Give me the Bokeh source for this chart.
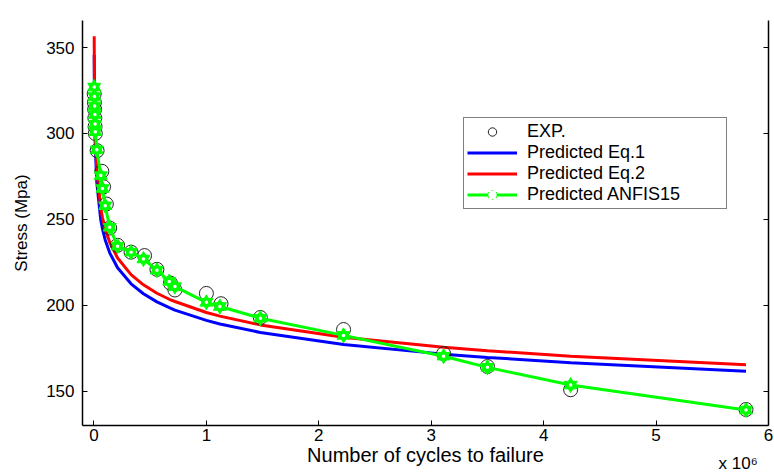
from bokeh.plotting import figure
from bokeh.models import Range1d, LinearAxis, Legend, LegendItem, Label, FixedTicker
from bokeh.embed import file_html
from bokeh.resources import INLINE

# Number of cycles to failure, in units of 10^6
n_cycles_1e6 = [0.002, 0.004, 0.006, 0.008, 0.010, 0.012, 0.025, 0.06, 0.075, 0.10,
                0.14, 0.21, 0.33, 0.44, 0.56, 0.67, 0.72, 1.00, 1.12, 1.48,
                2.22, 3.11, 3.50, 4.24, 5.80]
n_exp_1e6 = [0.002, 0.004, 0.006, 0.008, 0.010, 0.012, 0.028, 0.07, 0.085, 0.11,
             0.14, 0.21, 0.33, 0.45, 0.56, 0.68, 0.72, 1.00, 1.13, 1.48,
             2.22, 3.11, 3.50, 4.24, 5.80]
stress_exp = [323, 318, 314, 309, 304, 300, 290, 278, 269, 259,
              245, 235, 231, 229, 221, 213, 209, 207, 201, 193,
              186, 172, 164.5, 151, 139.5]
stress_anfis = [327, 321.5, 316, 311, 305.5, 301, 290.5, 275.5, 268, 258,
                245.5, 234.5, 231, 227, 220.5, 214, 211, 201.8, 199.4, 192.6,
                182.6, 170.5, 164, 153.7, 139.2]
stress_eq1 = [345.6, 323.5, 311.2, 302.8, 296.5, 291.4, 271.7, 250.0, 244.7, 238.1,
              230.6, 221.9, 212.6, 206.8, 202.1, 198.7, 197.3, 191.3, 189.2, 184.3,
              177.3, 171.7, 169.8, 166.7, 161.8]
stress_eq2 = [356.5, 332.9, 320.2, 311.5, 304.9, 299.6, 279.1, 256.7, 251.3, 244.4,
              236.7, 227.6, 217.9, 212.0, 207.1, 203.6, 202.3, 195.9, 193.8, 188.7,
              181.5, 175.7, 173.7, 170.5, 165.5]
x_ticks = [0, 1, 2, 3, 4, 5, 6]
y_ticks = [150, 200, 250, 300, 350]

FONT = "Liberation Sans"
GREEN = "#00ff00"

p = figure(width=774, height=472, output_backend="svg", toolbar_location=None,
           x_range=Range1d(-0.102, 6.0), y_range=Range1d(130.2, 365.7),
           min_border_left=82, min_border_right=6, min_border_top=20, min_border_bottom=47)
p.outline_line_color = None
p.grid.visible = False
p.background_fill_color = "white"
p.border_fill_color = "white"

# axes
p.xaxis.ticker = FixedTicker(ticks=x_ticks)
p.yaxis.ticker = FixedTicker(ticks=y_ticks)
for ax in (p.xaxis[0], p.yaxis[0]):
    ax.major_tick_in = 5
    ax.major_tick_out = 0
    ax.minor_tick_line_color = None
    ax.axis_line_color = "black"
    ax.axis_line_width = 1.5
    ax.major_tick_line_color = "black"
    ax.major_label_text_font = FONT
    ax.major_label_text_font_size = "17px"
    ax.major_label_text_color = "black"
    ax.axis_label_text_font = FONT
    ax.axis_label_text_font_style = "normal"
    ax.axis_label_text_color = "black"

p.xaxis.axis_label = "Number of cycles to failure"
p.xaxis.axis_label_text_font_size = "20px"
p.xaxis.major_label_standoff = 3
p.xaxis.axis_label_standoff = 0

p.yaxis.axis_label = "Stress (Mpa)"
p.yaxis.axis_label_text_font_size = "17px"
p.yaxis.major_label_standoff = 8
p.yaxis.axis_label_standoff = 12

right = LinearAxis(ticker=FixedTicker(ticks=y_ticks), major_tick_in=5, major_tick_out=0,
                   minor_tick_line_color=None,
                   major_label_overrides={float(v): "" for v in y_ticks},
                   major_label_standoff=0, axis_line_color="black", axis_line_width=1.5)
p.add_layout(right, "right")

# series
r_eq1 = p.line(n_cycles_1e6, stress_eq1, line_color="#0000ff", line_width=3)
r_eq2 = p.line(n_cycles_1e6, stress_eq2, line_color="#ff0000", line_width=3)
r_exp = p.scatter(n_exp_1e6, stress_exp, marker="circle", size=14, fill_color=None,
                  line_color="#222222", line_width=1)
r_an_line = p.line(n_cycles_1e6, stress_anfis, line_color=GREEN, line_width=3)
r_tri = p.scatter(n_cycles_1e6, stress_anfis, marker="triangle", size=13,
                  fill_color=GREEN, line_color=GREEN, line_width=1)
r_inv = p.scatter(n_cycles_1e6, stress_anfis, marker="inverted_triangle", size=13,
                  fill_color=GREEN, line_color=GREEN, line_width=1)
r_dot = p.scatter(n_cycles_1e6, stress_anfis, marker="circle", size=3.5,
                  fill_color="white", line_color=None)

legend = Legend(items=[
    LegendItem(label="EXP.", renderers=[r_exp]),
    LegendItem(label="Predicted Eq.1", renderers=[r_eq1]),
    LegendItem(label="Predicted Eq.2", renderers=[r_eq2]),
    LegendItem(label="Predicted ANFIS15", renderers=[r_an_line, r_tri, r_inv, r_dot]),
], location=(381, 216), margin=0, padding=3, spacing=0,
    label_height=21, glyph_height=21, glyph_width=50, label_standoff=10, label_width=196,
    label_text_font=FONT, label_text_font_size="18px", label_text_color="black",
    border_line_color="black", border_line_width=1, background_fill_color="white",
    background_fill_alpha=1.0)
p.add_layout(legend)

# x 10^6 multiplier: kept in a side panel (not clipped), drawn below the x axis
p.add_layout(Label(x=636, y=-443, x_units="screen", y_units="screen", text="x 10\u2076",
                   text_font=FONT, text_font_size="17px", text_baseline="middle",
                   text_color="black"), "above")

open("out.html", "w").write(file_html(p, INLINE))
